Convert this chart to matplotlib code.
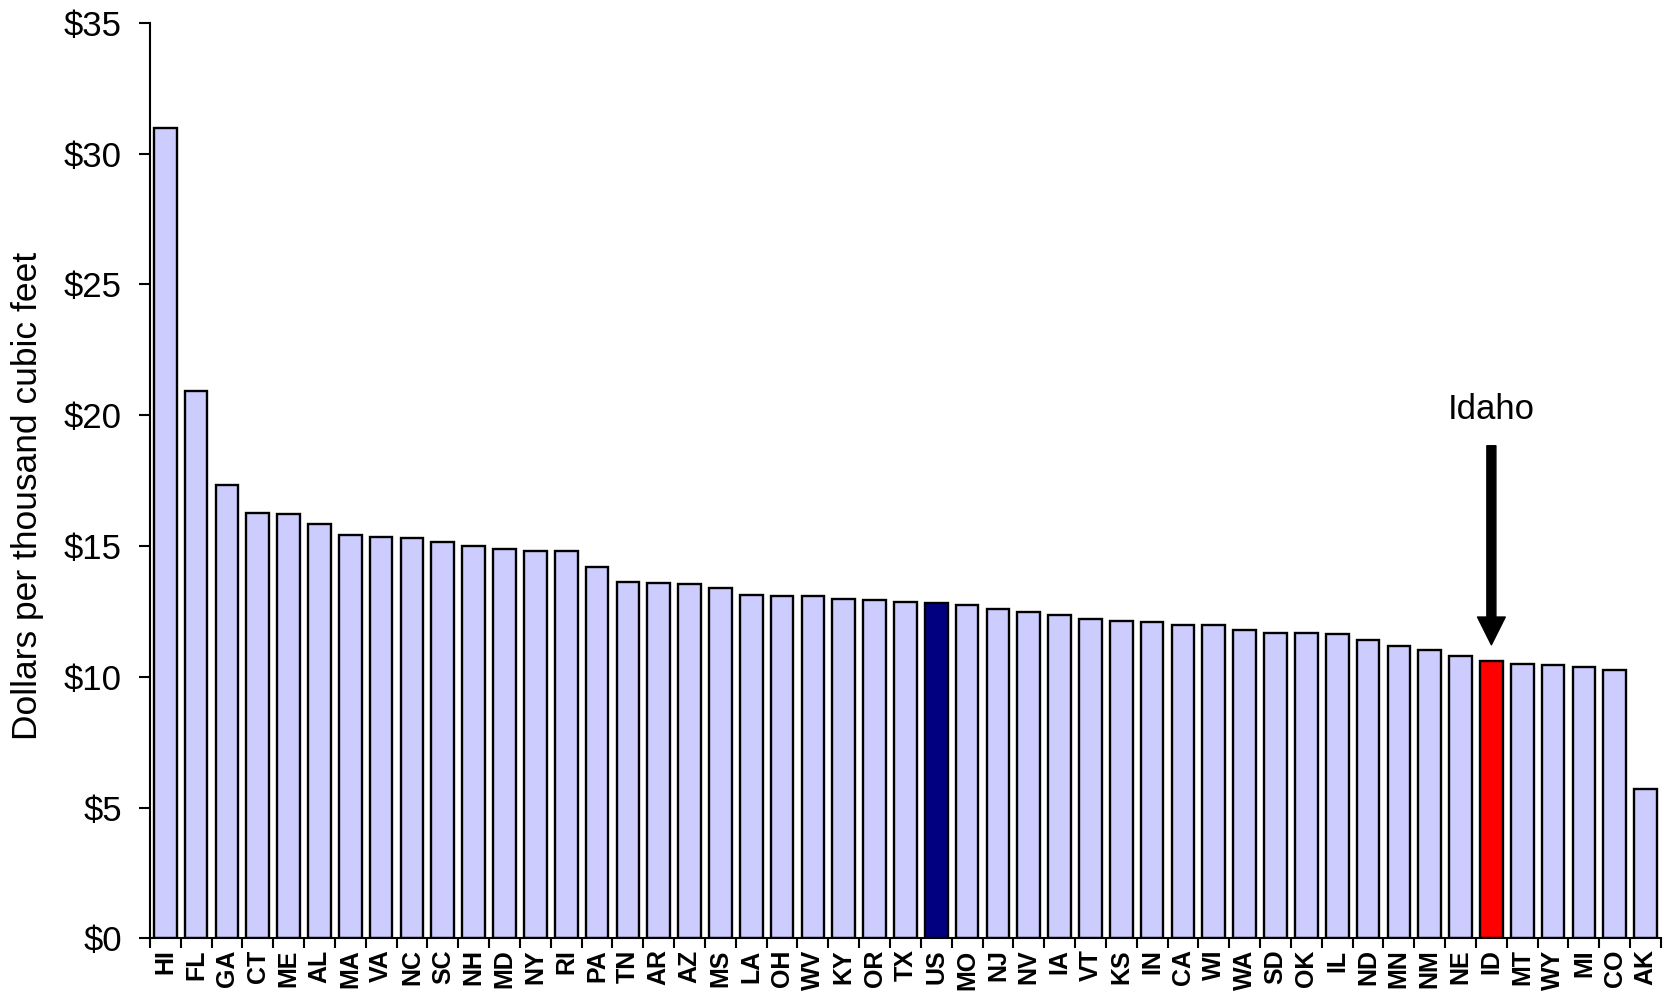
import matplotlib.pyplot as plt
import numpy as np

plt.rcParams['font.family'] = ['Liberation Sans', 'DejaVu Sans']

states = ['HI', 'FL', 'GA', 'CT', 'ME', 'AL', 'MA', 'VA', 'NC', 'SC', 'NH', 'MD', 'NY', 'RI',
          'PA', 'TN', 'AR', 'AZ', 'MS', 'LA', 'OH', 'WV', 'KY', 'OR', 'TX', 'US', 'MO', 'NJ',
          'NV', 'IA', 'VT', 'KS', 'IN', 'CA', 'WI', 'WA', 'SD', 'OK', 'IL', 'ND', 'MN', 'NM',
          'NE', 'ID', 'MT', 'WY', 'MI', 'CO', 'AK']
prices = [30.97, 20.94, 17.32, 16.25, 16.21, 15.84, 15.42, 15.36, 15.30, 15.14, 14.98, 14.88, 14.81, 14.81,
          14.19, 13.63, 13.60, 13.56, 13.41, 13.13, 13.10, 13.10, 12.98, 12.92, 12.87, 12.83, 12.73, 12.57,
          12.48, 12.36, 12.22, 12.14, 12.10, 11.97, 11.97, 11.79, 11.69, 11.66, 11.62, 11.41, 11.18, 11.02,
          10.80, 10.59, 10.50, 10.45, 10.38, 10.25, 5.71]

highlight = {'US': '#000080', 'ID': '#ff0000'}
colors = [highlight.get(s, '#ccccff') for s in states]
x = np.arange(len(states))

fig = plt.figure(figsize=(16.65, 9.92), dpi=100)
ax = fig.add_axes([0.09, 0.0541, 0.9076, 0.923])

ax.bar(x, prices, width=0.735, color=colors, edgecolor='black', linewidth=1.7)

ax.set_xlim(-0.5, len(states) - 0.5)
ax.set_ylim(0, 35)
ax.set_yticks(np.arange(0, 36, 5))
ax.set_yticklabels(['$%d' % v for v in range(0, 36, 5)], fontsize=25)
ax.set_xticks(x)
ax.set_xticklabels(states, rotation=90, fontsize=18, fontweight='bold')
ax.set_xticks(np.arange(-0.5, len(states)), minor=True)
ax.tick_params(axis='x', which='major', length=0, pad=8)
ax.tick_params(axis='x', which='minor', length=7.5, width=1.5, direction='out')
ax.tick_params(axis='y', length=8, width=1.5, pad=12)

for side in ['top', 'right']:
    ax.spines[side].set_visible(False)
for side in ['left', 'bottom']:
    ax.spines[side].set_linewidth(1.5)

ax.set_ylabel('Dollars per thousand cubic feet', fontsize=25.5)
ax.yaxis.set_label_coords(-0.07, 0.483)

idx = states.index('ID')
ax.annotate('', xy=(idx, 11.22), xytext=(idx, 18.83),
            arrowprops=dict(width=6.5, headwidth=20, headlength=20, shrink=0, color='black'))
ax.text(idx, 20.2, 'Idaho', fontsize=25, ha='center', va='center')

fig.savefig('out.png', dpi=100)
